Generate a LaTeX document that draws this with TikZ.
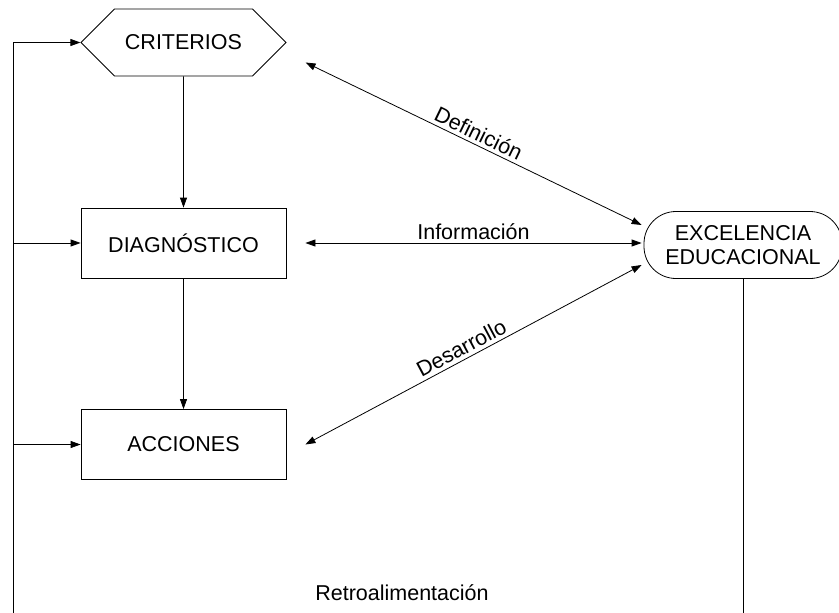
\documentclass[tikz,border=0pt]{standalone}
\usepackage{fontspec}
\setmainfont{Liberation Sans}
\usetikzlibrary{arrows.meta, positioning, shapes.symbols}

\begin{document}
\begin{tikzpicture}[x=1pt, y=-1pt, line width=0.8pt,
    every node/.style={font=\fontsize{21.5}{24}\selectfont},
    box/.style={draw, rectangle, minimum width=205pt, minimum height=70pt},
    hexbox/.style={draw, signal, signal to=west and east, signal pointer angle=90,
        minimum width=205pt, minimum height=67pt},
    roundbox/.style={draw, rectangle, rounded corners=32pt, align=center,
        minimum width=198pt, minimum height=67pt},
    link/.style={-{Triangle[length=10pt, width=7pt]}},
    both/.style={{Triangle[length=10pt, width=7pt]}-{Triangle[length=10pt, width=7pt]}}]
    \useasboundingbox (0,0) rectangle (839,613);

    % Nodes
    \node[hexbox] (crit) at (183.5,42.5) {CRITERIOS};
    \node[box] (diag) at (183.5,243) {DIAGNÓSTICO};
    \node[box] (acc) at (183.5,444.5) {ACCIONES};
    \node[roundbox] (exc) at (743,245) {EXCELENCIA\\EDUCACIONAL};
    \coordinate (fbl) at (13,613);
    \coordinate (fbr) at (exc.south |- fbl);
    \node (retro) at (402,593) {Retroalimentación};

    % Main flow
    \draw[link] (crit) -- (diag);
    \draw[link] (diag) -- (acc);

    % Feedback loop
    \draw (exc) -- (fbr);
    \draw[link] (fbl) |- (crit);
    \draw[link] (fbl |- diag) -- (diag);
    \draw[link] (fbl |- acc) -- (acc);

    % Links to the goal
    \draw[both] ([shift={(19,20)}]crit.east) -- ([shift={(-2,-20)}]exc.west)
        node[midway, sloped, above] {Definición};
    \draw[both] ([xshift=19pt]diag.east) -- ([xshift=-2pt]diag.east -| exc.west)
        node[midway, above] {Información};
    \draw[both] ([xshift=19pt]acc.east) -- ([shift={(-2,20)}]exc.west)
        node[pos=0.48, sloped, above] {Desarrollo};
\end{tikzpicture}
\end{document}
